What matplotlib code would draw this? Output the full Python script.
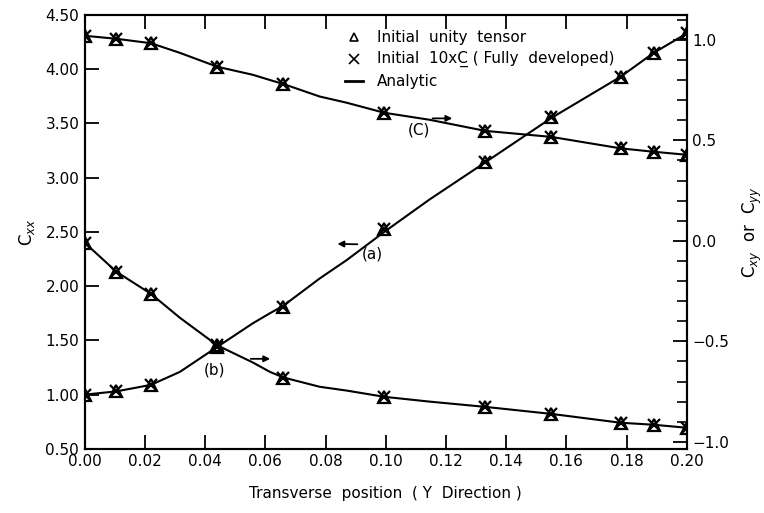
import numpy as np
import matplotlib.pyplot as plt
from matplotlib.ticker import MultipleLocator

# marker positions (Y direction)
x_pts = [0.0, 0.0105, 0.022, 0.044, 0.066, 0.0995, 0.133, 0.155, 0.178, 0.189, 0.20]
cxx_pts = [1.00, 1.03, 1.09, 1.44, 1.81, 2.53, 3.14, 3.56, 3.93, 4.15, 4.33]      # (a)
cxy_pts = [-0.01, -0.154, -0.264, -0.52, -0.68, -0.776, -0.826, -0.861, -0.905, -0.915, -0.93]  # (b)
cyy_pts = [1.02, 1.005, 0.983, 0.866, 0.78, 0.637, 0.547, 0.517, 0.46, 0.443, 0.428]  # (c)

# analytic curves
x_an = [0.0, 0.0105, 0.022, 0.0316, 0.044, 0.0558, 0.0615, 0.066, 0.078, 0.087, 0.0995, 0.1146, 0.133, 0.155, 0.178, 0.189, 0.20]
cxx_an = [1.00, 1.03, 1.09, 1.21, 1.44, 1.657, 1.75, 1.82, 2.07, 2.24, 2.50, 2.80, 3.14, 3.55, 3.93, 4.15, 4.33]
cxy_an = [-0.01, -0.154, -0.264, -0.383, -0.52, -0.605, -0.652, -0.68, -0.726, -0.745, -0.776, -0.80, -0.826, -0.861, -0.905, -0.915, -0.93]
cyy_an = [1.02, 1.005, 0.983, 0.935, 0.866, 0.826, 0.80, 0.78, 0.718, 0.687, 0.637, 0.602, 0.547, 0.517, 0.46, 0.443, 0.428]

xticks = np.arange(0, 0.201, 0.02)
xtick_labels = ["0.00", "0.02", "0.04", "0.06", "0.08", "0.10", "0.12", "0.14", "0.16", "0.18", "0.20"]

plt.rcParams['font.family'] = 'DejaVu Sans'
plt.rcParams['mathtext.fontset'] = 'dejavusans'
plt.rcParams['font.size'] = 11

fig = plt.figure(figsize=(7.64, 5.13), dpi=100)
ax = fig.add_axes([0.111, 0.125, 0.788, 0.846])
ax2 = ax.twinx()

lw = 1.5
mk = dict(color='black', linestyle='none', markersize=8, mew=1.6)

# (a) on left axis
ax.plot(x_an, cxx_an, color='black', lw=lw)
ax.plot(x_pts, cxx_pts, marker='^', fillstyle='none', **mk)
ax.plot(x_pts, cxx_pts, marker='x', **mk)

# (b), (c) on right axis
for y_an, y_pts in [(cxy_an, cxy_pts), (cyy_an, cyy_pts)]:
    ax2.plot(x_an, y_an, color='black', lw=lw)
    ax2.plot(x_pts, y_pts, marker='^', fillstyle='none', **mk)
    ax2.plot(x_pts, y_pts, marker='x', **mk)

ax.set_xlim(0, 0.20)
ax.set_ylim(0.5, 4.5)
ax2.set_ylim(-1.035, 1.124)

ax.set_xticks(xticks)
ax.set_xticklabels(xtick_labels)
ax.set_yticks(np.arange(0.5, 4.51, 0.5))
ax.set_yticklabels(["%.2f" % v for v in np.arange(0.5, 4.51, 0.5)])
ax2.set_yticks([-1.0, -0.5, 0.0, 0.5, 1.0])
ax2.set_yticklabels(["\u22121.0", "\u22120.5", "0.0", "0.5", "1.0"])
ax2.yaxis.set_minor_locator(MultipleLocator(0.1))

ax.tick_params(axis='both', direction='in', top=True, right=False, length=10, width=1.3, pad=4)
ax2.tick_params(axis='y', which='major', direction='in', length=10, width=1.3, pad=4)
ax2.tick_params(axis='y', which='minor', direction='in', length=7, width=1.2)
for a in (ax, ax2):
    for s in a.spines.values():
        s.set_linewidth(1.5)

ax.set_ylabel("C$_{xx}$", fontsize=12, labelpad=6)
ax2.set_ylabel("C$_{xy}$  or  C$_{yy}$", fontsize=12, labelpad=8)
ax.set_xlabel("Transverse  position  ( Y  Direction )", fontsize=11, labelpad=12)

# legend drawn by hand
lx, ltx = 0.0895, 0.097
ax.plot([lx], [4.295], marker='^', fillstyle='none', color='black', markersize=6, mew=1.2)
ax.text(ltx, 4.295, "Initial  unity  tensor", va='center', fontsize=11)
ax.plot([lx], [4.09], marker='x', color='black', markersize=7, mew=1.2)
ax.text(ltx, 4.09, "Initial  10xC\u0332 ( Fully  developed)", va='center', fontsize=11)
ax.plot([lx - 0.003, lx + 0.003], [3.89, 3.89], color='black', lw=2)
ax.text(ltx, 3.89, "Analytic", va='center', fontsize=11)

# curve labels with arrows
arrow = dict(arrowstyle='-|>', color='black', lw=1.3, mutation_scale=9)
ax.text(0.0955, 2.30, "(a)", ha='center', va='center', fontsize=11)
ax.annotate("", xy=(0.083, 2.39), xytext=(0.0915, 2.385), arrowprops=arrow)
ax.text(0.043, 1.23, "(b)", ha='center', va='center', fontsize=11)
ax.annotate("", xy=(0.0625, 1.33), xytext=(0.0542, 1.33), arrowprops=arrow)
ax.text(0.111, 3.435, "(C)", ha='center', va='center', fontsize=11)
ax.annotate("", xy=(0.123, 3.546), xytext=(0.1146, 3.546), arrowprops=arrow)

fig.savefig("out.png", dpi=100)
